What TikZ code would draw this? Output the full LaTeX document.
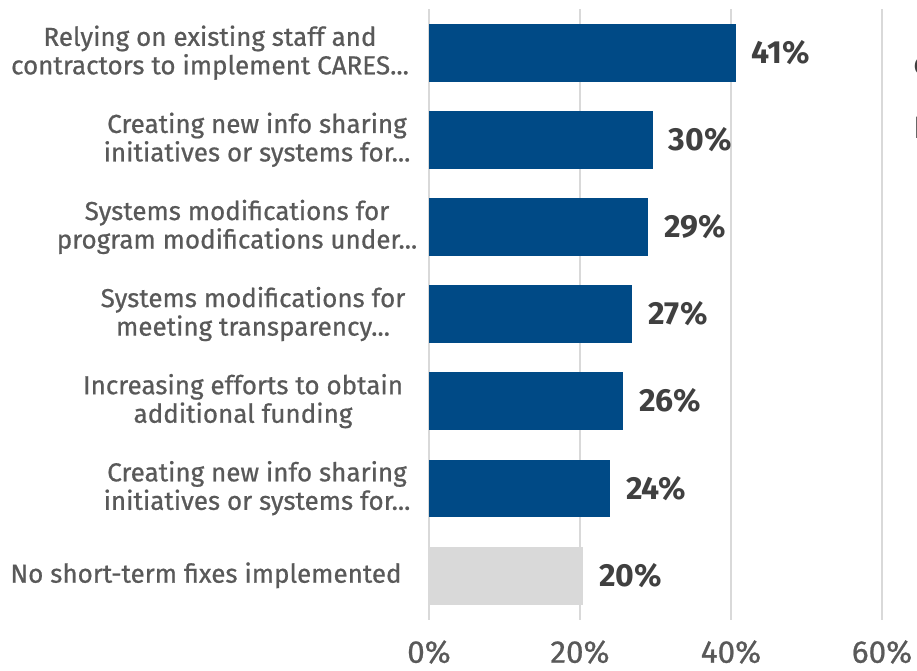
\documentclass[tikz,border=0pt]{standalone}
\usepackage{fontspec}
\setmainfont{Fira Sans}
\newfontfamily\labfont{Fira Sans}[FakeBold=0.7]
\definecolor{barblue}{HTML}{004A86}
\definecolor{barlight}{HTML}{D9D9D9}
\definecolor{gridc}{HTML}{D9D9D9}
\definecolor{labc}{HTML}{595959}
\definecolor{valc}{HTML}{404040}
\begin{document}
\begin{tikzpicture}[x=1pt,y=-1pt,
  gridline/.style={draw=gridc,line width=2pt},
  bluebar/.style={fill=barblue,draw=none},
  greybar/.style={fill=barlight,draw=none},
  catlabel/.style={text=labc,align=center,inner sep=0pt,font=\fontsize{26}{28.5}\labfont},
  vallabel/.style={text=valc,anchor=west,inner sep=0pt,font=\fontsize{32}{34}\selectfont\bfseries},
  axlabel/.style={text=labc,inner sep=0pt,font=\fontsize{31.5}{34}\labfont},
  cutlabel/.style={anchor=west,inner sep=0pt,font=\fontsize{31}{34}\selectfont}]
\useasboundingbox (0,0) rectangle (917,670);
% gridlines
\foreach \gx/\nm in {429/g0,580/g20,731/g40,882/g60}{
  \coordinate (\nm t) at (\gx,9);
  \coordinate (\nm b) at (\gx,620);
  \draw[gridline] (\nm t) -- (\nm b);
}
% bars
\path[bluebar] (429,24) rectangle (735.7,81.5);
\path[bluebar] (429,111.1) rectangle (652.7,168.6);
\path[bluebar] (429,198.2) rectangle (648,255.7);
\path[bluebar] (429,285.3) rectangle (632.3,342.8);
\path[bluebar] (429,372.4) rectangle (622.7,429.9);
\path[bluebar] (429,459.5) rectangle (610,517);
\path[greybar] (429,546.7) rectangle (582.7,604.5);
% value labels
\node[vallabel] (v1) at (751.5,52.7) {41\%};
\node[vallabel] (v2) at (668.5,139.8) {30\%};
\node[vallabel] (v3) at (664,226.9) {29\%};
\node[vallabel] (v4) at (648.5,314) {27\%};
\node[vallabel] (v5) at (639,401.1) {26\%};
\node[vallabel] (v6) at (626,488.2) {24\%};
\node[vallabel] (v7) at (599,575.3) {20\%};
% category labels
\node[catlabel] (c1) at (210,52.7) {Relying on existing staff and\\contractors to implement CARES...};
\node[catlabel] (c2) at (257,139.8) {Creating new info sharing\\initiatives or systems for...};
\node[catlabel] (c3) at (237,226.9) {Systems modifications for\\program modifications under...};
\node[catlabel] (c4) at (253,314) {Systems modifications for\\meeting transparency...};
\node[catlabel] (c5) at (243,401.1) {Increasing efforts to obtain\\additional funding};
\node[catlabel] (c6) at (257,488.2) {Creating new info sharing\\initiatives or systems for...};
\node[catlabel] (c7) at (206,575.3) {No short-term fixes implemented};
% axis labels
\node[axlabel] (a0) at (429,652) {0\%};
\node[axlabel] (a20) at (580,652) {20\%};
\node[axlabel] (a40) at (731,652) {40\%};
\node[axlabel] (a60) at (882,652) {60\%};
% cut-off text at right edge
\node[cutlabel,text=valc] (r1) at (913,66) {c};
\node[cutlabel,text=labc] (r2) at (913,128) {I};
\end{tikzpicture}
\end{document}
